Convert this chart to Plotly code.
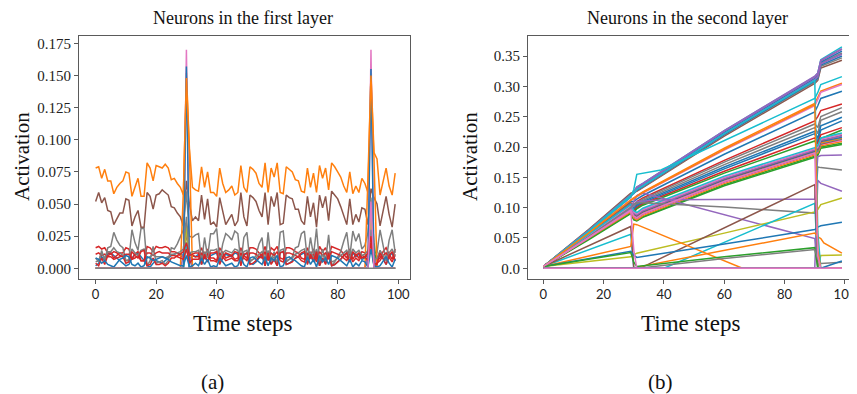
import plotly.graph_objects as go

# ---------------- colours (matplotlib tab10) ----------------
BLUE, ORANGE, GREEN, RED, PURPLE = "#1f77b4", "#ff7f0e", "#2ca02c", "#d62728", "#9467bd"
BROWN, PINK, GRAY, OLIVE, CYAN = "#8c564b", "#e377c2", "#7f7f7f", "#bcbd22", "#17becf"

# ---------------- panel (a): first layer ----------------
l1_orange = [0.078,0.079,0.070,0.077,0.068,0.068,0.058,0.063,0.066,0.068,0.075,0.074,0.056,0.064,0.070,0.056,0.056,0.082,0.078,0.068,
             0.080,0.079,0.078,0.081,0.078,0.069,0.070,0.066,0.063,0.057,0.152,0.093,0.063,0.061,0.060,0.079,0.063,0.075,0.059,0.059,
             0.056,0.078,0.066,0.059,0.061,0.064,0.057,0.059,0.080,0.063,0.059,0.079,0.077,0.074,0.066,0.063,0.082,0.059,0.078,0.071,
             0.082,0.059,0.058,0.079,0.077,0.075,0.069,0.068,0.060,0.059,0.078,0.063,0.074,0.059,0.080,0.070,0.078,0.061,0.082,0.079,
             0.075,0.071,0.064,0.059,0.075,0.058,0.064,0.059,0.070,0.066,0.059,0.152,0.090,0.085,0.057,0.068,0.078,0.064,0.057,0.074]
l1_brown = [0.052,0.059,0.051,0.055,0.045,0.044,0.034,0.038,0.043,0.043,0.054,0.053,0.033,0.040,0.045,0.032,0.032,0.059,0.056,0.046,
            0.057,0.058,0.061,0.059,0.057,0.048,0.047,0.043,0.040,0.033,0.068,0.050,0.037,0.040,0.037,0.057,0.038,0.054,0.034,0.036,
            0.032,0.055,0.045,0.034,0.038,0.042,0.033,0.037,0.059,0.040,0.033,0.057,0.055,0.052,0.045,0.040,0.059,0.034,0.056,0.048,
            0.059,0.034,0.035,0.057,0.055,0.054,0.046,0.046,0.037,0.034,0.056,0.040,0.051,0.032,0.057,0.047,0.056,0.037,0.060,0.057,
            0.054,0.048,0.041,0.034,0.054,0.034,0.042,0.036,0.047,0.046,0.034,0.062,0.055,0.050,0.033,0.046,0.056,0.042,0.032,0.050]
l1_gray_hi = [0.008,0.005,0.014,0.006,0.016,0.017,0.028,0.022,0.018,0.016,0.006,0.007,0.030,0.020,0.014,0.031,0.031,0.002,0.006,0.017,
              0.004,0.005,0.006,0.003,0.006,0.016,0.015,0.019,0.024,0.030,0.060,0.025,0.024,0.026,0.027,0.005,0.024,0.009,0.027,0.027,
              0.031,0.006,0.019,0.027,0.025,0.022,0.029,0.027,0.004,0.024,0.028,0.005,0.007,0.010,0.019,0.024,0.002,0.028,0.006,0.013,
              0.002,0.028,0.029,0.005,0.007,0.009,0.016,0.017,0.027,0.029,0.006,0.024,0.010,0.031,0.004,0.015,0.006,0.026,0.002,0.005,
              0.009,0.013,0.021,0.028,0.009,0.029,0.021,0.027,0.015,0.018,0.028,0.055,0.010,0.012,0.030,0.017,0.006,0.022,0.030,0.012]
l1_gray_mid = [0.005,0.006,0.012,0.008,0.013,0.013,0.016,0.013,0.012,0.010,0.006,0.006,0.015,0.012,0.010,0.014,0.015,0.008,0.009,0.011,
               0.009,0.009,0.009,0.008,0.009,0.011,0.011,0.012,0.013,0.015,0.040,0.012,0.013,0.013,0.014,0.006,0.013,0.008,0.014,0.014,
               0.015,0.006,0.012,0.014,0.013,0.012,0.015,0.014,0.005,0.013,0.014,0.006,0.007,0.008,0.011,0.013,0.005,0.014,0.006,0.009,
               0.005,0.014,0.015,0.006,0.007,0.008,0.011,0.012,0.014,0.015,0.006,0.013,0.008,0.015,0.005,0.011,0.006,0.013,0.005,0.006,
               0.008,0.010,0.012,0.014,0.008,0.015,0.012,0.014,0.010,0.011,0.014,0.030,0.006,0.008,0.014,0.010,0.006,0.012,0.015,0.009]
l1_red1 = [0.016,0.017,0.015,0.016,0.012,0.012,0.008,0.010,0.012,0.012,0.016,0.015,0.007,0.011,0.013,0.006,0.006,0.017,0.016,0.013,
           0.017,0.016,0.016,0.017,0.016,0.013,0.013,0.012,0.010,0.008,0.030,0.005,0.010,0.009,0.009,0.016,0.010,0.015,0.008,0.008,
           0.006,0.016,0.012,0.008,0.009,0.010,0.007,0.008,0.016,0.010,0.008,0.016,0.016,0.015,0.012,0.010,0.017,0.008,0.016,0.014,
           0.017,0.008,0.007,0.016,0.016,0.015,0.013,0.012,0.008,0.007,0.016,0.010,0.015,0.007,0.017,0.013,0.016,0.009,0.017,0.016,
           0.015,0.014,0.011,0.008,0.015,0.007,0.011,0.008,0.013,0.012,0.008,0.040,0.004,0.006,0.008,0.013,0.016,0.011,0.007,0.015]
l1_red2 = [0.011,0.012,0.010,0.011,0.009,0.009,0.007,0.008,0.009,0.010,0.011,0.011,0.007,0.008,0.010,0.006,0.006,0.012,0.012,0.010,
           0.012,0.013,0.012,0.012,0.012,0.010,0.010,0.009,0.008,0.007,0.015,0.004,0.007,0.007,0.007,0.012,0.008,0.011,0.006,0.006,
           0.005,0.012,0.009,0.006,0.007,0.008,0.006,0.006,0.012,0.008,0.006,0.012,0.012,0.011,0.009,0.008,0.013,0.006,0.012,0.010,
           0.013,0.006,0.005,0.012,0.012,0.011,0.010,0.009,0.006,0.005,0.012,0.008,0.011,0.005,0.013,0.010,0.012,0.007,0.013,0.012,
           0.011,0.010,0.008,0.006,0.011,0.005,0.008,0.006,0.010,0.009,0.006,0.020,0.003,0.004,0.006,0.010,0.012,0.008,0.005,0.011]
l1_red3 = [0.004,0.002,0.008,0.003,0.010,0.011,0.013,0.012,0.010,0.009,0.004,0.005,0.013,0.010,0.008,0.013,0.014,0.002,0.003,0.008,
           0.003,0.003,0.004,0.002,0.004,0.008,0.008,0.010,0.011,0.013,0.020,0.010,0.011,0.012,0.012,0.003,0.011,0.005,0.012,0.012,
           0.013,0.003,0.009,0.012,0.011,0.010,0.013,0.012,0.002,0.011,0.012,0.003,0.004,0.006,0.009,0.011,0.002,0.012,0.003,0.007,
           0.002,0.012,0.013,0.003,0.004,0.005,0.008,0.009,0.012,0.013,0.003,0.011,0.006,0.013,0.002,0.008,0.003,0.012,0.002,0.003,
           0.005,0.007,0.010,0.012,0.005,0.013,0.010,0.012,0.008,0.009,0.012,0.025,0.002,0.003,0.012,0.008,0.003,0.010,0.013,0.006]
l1_blue1 = [0.002,0.004,0.009,0.006,0.011,0.012,0.010,0.008,0.006,0.004,0.002,0.003,0.008,0.011,0.012,0.009,0.006,0.002,0.001,0.004,
            0.006,0.005,0.004,0.006,0.008,0.010,0.011,0.012,0.011,0.010,0.030,0.012,0.010,0.009,0.011,0.003,0.009,0.005,0.010,0.011,
            0.012,0.004,0.008,0.011,0.010,0.009,0.012,0.011,0.003,0.010,0.012,0.004,0.003,0.005,0.008,0.010,0.002,0.011,0.004,0.007,
            0.002,0.012,0.013,0.003,0.004,0.006,0.008,0.009,0.011,0.012,0.004,0.010,0.005,0.012,0.002,0.008,0.004,0.011,0.002,0.003,
            0.005,0.007,0.010,0.012,0.005,0.012,0.009,0.011,0.007,0.008,0.011,0.020,0.004,0.006,0.012,0.008,0.003,0.009,0.012,0.006]
l1_blue2 = [0.008,0.007,0.004,0.006,0.003,0.002,0.001,0.004,0.007,0.008,0.010,0.009,0.003,0.002,0.004,0.001,0.002,0.009,0.008,0.006,
            0.007,0.008,0.009,0.008,0.007,0.005,0.004,0.003,0.002,0.002,0.010,0.001,0.002,0.004,0.002,0.008,0.003,0.007,0.001,0.002,
            0.001,0.008,0.005,0.002,0.003,0.004,0.001,0.002,0.009,0.003,0.001,0.008,0.009,0.007,0.005,0.003,0.009,0.002,0.008,0.006,
            0.010,0.001,0.002,0.008,0.009,0.007,0.006,0.004,0.002,0.001,0.009,0.003,0.007,0.001,0.010,0.005,0.008,0.003,0.010,0.009,
            0.008,0.006,0.004,0.002,0.007,0.001,0.004,0.002,0.006,0.005,0.001,0.015,0.002,0.001,0.002,0.006,0.009,0.004,0.001,0.007]
# neurons that are silent except around the two input bursts (t -> activation)
l1_spike_pink = {30: 0.170, 91: 0.170}
l1_spike_blue = {30: 0.157, 91: 0.155}
l1_spike_orange = {29: 0.060, 30: 0.148, 31: 0.090, 90: 0.070, 91: 0.150, 92: 0.085}
l1_spike_green = {30: 0.030, 31: 0.010, 91: 0.050, 92: 0.020}
l1_spike_purple = {29: 0.010, 30: 0.030, 31: 0.010, 90: 0.010, 91: 0.028, 92: 0.010}
l1_spike_olive = {30: 0.035, 91: 0.040}
l1_spike_cyan = {30: 0.020, 91: 0.030}
l1_spike_pink2 = {91: 0.052}
N_STEPS = 100

# ---------------- panel (b): second layer ----------------
K = [0, 15, 29, 30, 31, 33, 60, 90, 91, 92, 99]  # time steps read for most neurons
l2_lines = [
    # top bundle
    (BROWN,  K, [0.003,0.064,0.124,0.125,0.127,0.133,0.218,0.305,0.310,0.330,0.343]),
    (GRAY,   K, [0.003,0.063,0.122,0.124,0.128,0.134,0.220,0.307,0.312,0.333,0.347]),
    (BLUE,   K, [0.003,0.062,0.121,0.123,0.129,0.135,0.221,0.309,0.314,0.335,0.350]),
    (GRAY,   K, [0.003,0.061,0.120,0.124,0.131,0.137,0.223,0.312,0.317,0.338,0.355]),
    (BLUE,   K, [0.003,0.061,0.119,0.125,0.132,0.138,0.224,0.313,0.318,0.340,0.358]),
    (CYAN,   K, [0.003,0.060,0.118,0.126,0.134,0.140,0.227,0.316,0.322,0.344,0.365]),
    (PURPLE, K, [0.003,0.062,0.121,0.124,0.130,0.136,0.222,0.311,0.316,0.337,0.353]),
    (PURPLE, K, [0.003,0.060,0.118,0.126,0.133,0.139,0.226,0.315,0.320,0.342,0.361]),
    (PURPLE, K, [0.003,0.060,0.117,0.127,0.134,0.140,0.227,0.317,0.322,0.343,0.362]),
    # middle group
    (CYAN,   [0,15,29,30,31,33,39,90,91,92,99], [0.003,0.060,0.118,0.130,0.155,0.157,0.162,0.280,0.290,0.303,0.316]),
    (ORANGE, K, [0.003,0.058,0.113,0.116,0.120,0.126,0.198,0.272,0.282,0.292,0.305]),
    (PINK,   K, [0.003,0.057,0.112,0.114,0.118,0.124,0.195,0.268,0.278,0.290,0.303]),
    (BLUE,   K, [0.003,0.056,0.110,0.110,0.114,0.120,0.188,0.258,0.268,0.280,0.292]),
    (RED,    K, [0.003,0.055,0.108,0.105,0.110,0.116,0.178,0.243,0.250,0.260,0.271]),
    (GRAY,   K, [0.003,0.055,0.107,0.103,0.108,0.114,0.175,0.238,0.232,0.250,0.265]),
    (GRAY,   K, [0.003,0.054,0.106,0.100,0.106,0.112,0.171,0.232,0.222,0.244,0.258]),
    (BLUE,   K, [0.003,0.054,0.105,0.098,0.104,0.110,0.167,0.226,0.214,0.235,0.249]),
    (BLUE,   K, [0.003,0.053,0.104,0.096,0.102,0.108,0.164,0.222,0.208,0.228,0.243]),
    (RED,    K, [0.003,0.053,0.103,0.094,0.100,0.106,0.160,0.215,0.205,0.220,0.232]),
    (GREEN,  K, [0.003,0.052,0.102,0.092,0.098,0.104,0.157,0.210,0.200,0.214,0.228]),
    # main lower bundle
    (GREEN,  K, [0.003,0.047,0.090,0.080,0.078,0.084,0.136,0.183,0.186,0.198,0.204]),
    (GREEN,  K, [0.003,0.048,0.091,0.081,0.079,0.085,0.138,0.185,0.188,0.200,0.206]),
    (ORANGE, K, [0.003,0.049,0.093,0.083,0.080,0.087,0.140,0.187,0.190,0.202,0.209]),
    (PINK,   K, [0.003,0.050,0.095,0.085,0.082,0.089,0.142,0.189,0.192,0.204,0.211]),
    (RED,    K, [0.003,0.050,0.096,0.086,0.083,0.090,0.143,0.190,0.193,0.205,0.213]),
    (CYAN,   K, [0.003,0.051,0.097,0.087,0.084,0.091,0.144,0.191,0.194,0.206,0.214]),
    (ORANGE, K, [0.003,0.052,0.098,0.088,0.085,0.092,0.145,0.192,0.195,0.207,0.215]),
    (BLUE,   K, [0.003,0.052,0.099,0.089,0.086,0.093,0.146,0.193,0.196,0.209,0.216]),
    (BROWN,  K, [0.003,0.053,0.100,0.090,0.087,0.094,0.147,0.194,0.197,0.210,0.219]),
    (PURPLE, K, [0.003,0.053,0.101,0.091,0.088,0.095,0.148,0.195,0.198,0.211,0.218]),
    (PINK,   K, [0.003,0.054,0.103,0.093,0.090,0.097,0.150,0.197,0.200,0.213,0.221]),
    (CYAN,   K, [0.003,0.055,0.105,0.095,0.092,0.099,0.152,0.199,0.202,0.215,0.223]),
    # individual neurons
    (PURPLE, [0,15,29,30,31,33,90,91,99], [0.003,0.052,0.100,0.110,0.120,0.124,0.049,0.0,0.0]),
    (PURPLE, [0,15,29,30,31,40,90,91,92,99], [0.003,0.050,0.098,0.105,0.110,0.113,0.114,0.184,0.186,0.187]),
    (GRAY,   [0,15,29,30,31,33,60,90,91,92,99], [0.003,0.052,0.100,0.106,0.108,0.108,0.101,0.091,0.167,0.166,0.162]),
    (PURPLE, [0,90,91,92,99], [0.0,0.0,0.145,0.140,0.127]),
    (OLIVE,  [0,29,30,31,60,90,91,92,99], [0.003,0.019,0.022,0.025,0.058,0.093,0.097,0.105,0.116]),
    (OLIVE,  [0,91,92,99], [0.0,0.0,0.021,0.022]),
    (CYAN,   [0,15,29,30,40,90,91,99], [0.003,0.030,0.056,0.0,0.0,0.107,0.0,0.0]),
    (BROWN,  [0,15,29,30,32,90,91,99], [0.003,0.037,0.069,0.0,0.0,0.138,0.0,0.0]),
    (ORANGE, [0,15,29,30,31,66,99], [0.003,0.020,0.036,0.073,0.072,0.0,0.0]),
    (ORANGE, [0,30,31,60,90,91,92,93,99], [0.0,0.0,0.002,0.029,0.058,0.052,0.049,0.042,0.025]),
    (BLUE,   [0,15,29,30,31,60,90,91,92,99], [0.003,0.016,0.028,0.022,0.018,0.040,0.064,0.068,0.070,0.076]),
    (GREEN,  [0,29,30,31,60,90,91,99], [0.003,0.026,0.010,0.003,0.019,0.034,0.0,0.0]),
    (GRAY,   [0,31,33,60,90,91,92,99], [0.0,0.0,0.001,0.016,0.031,0.015,0.008,0.010]),
    (PINK,   [0,15,29,30,31,99], [0.003,0.050,0.095,0.030,0.0,0.0]),
    (CYAN,   K, [0.003,0.061,0.120,0.124,0.130,0.136,0.222,0.310,0.060,0.0,0.0]),
    (ORANGE, K, [0.003,0.058,0.112,0.115,0.119,0.125,0.196,0.270,0.030,0.0,0.0]),
    (PINK,   K, [0.003,0.050,0.096,0.086,0.083,0.090,0.143,0.190,0.020,0.0,0.0]),
    (BLUE,   [0,92,99], [0.0,0.0,0.012]),
    (PINK,   [0,99], [0.0,0.0]),
]

x_ticks = [0, 20, 40, 60, 80, 100]
y1_ticks = [0.0, 0.025, 0.05, 0.075, 0.1, 0.125, 0.15, 0.175]
y1_text = ["0.000", "0.025", "0.050", "0.075", "0.100", "0.125", "0.150", "0.175"]
y2_ticks = [0.0, 0.05, 0.1, 0.15, 0.2, 0.25, 0.3, 0.35]
y2_text = ["0.0", "0.05", "0.10", "0.15", "0.20", "0.25", "0.30", "0.35"]

# ---------------- figure ----------------
# the page body keeps the browser's default 8px margin, so the figure is
# sized to the remaining window and page pixels are shifted by that offset
PAGE_W, PAGE_H, OFF = 857, 394, 8
W, H = PAGE_W - OFF, PAGE_H - OFF
fig = go.Figure()


def fx(px):
    return (px - OFF) / W


def fy(py):
    return 1 - (py - OFF) / H


def add(x, y, color, xa, ya, width=1.5):
    fig.add_trace(go.Scatter(x=x, y=y, mode="lines", line=dict(color=color, width=width),
                             xaxis=xa, yaxis=ya, hoverinfo="skip", showlegend=False))


def dense(d):
    return [d.get(t, 0.0) for t in range(N_STEPS)]


def steps_of(arr):
    return list(range(len(arr)))


panel_a = [
    (l1_blue1, BLUE), (l1_orange, ORANGE), (dense(l1_spike_green), GREEN), (l1_red1, RED),
    (dense(l1_spike_purple), PURPLE), (l1_brown, BROWN), (dense(l1_spike_pink), PINK), (l1_gray_hi, GRAY),
    (dense(l1_spike_olive), OLIVE), (dense(l1_spike_cyan), CYAN), (dense(l1_spike_blue), BLUE),
    (dense(l1_spike_orange), ORANGE), (l1_red2, RED), (l1_gray_mid, GRAY), (l1_red3, RED),
    (l1_blue2, BLUE), (dense(l1_spike_pink2), PINK), ([0.0] * N_STEPS, GRAY),
]
for arr, col in panel_a:
    add(steps_of(arr), arr, col, "x", "y")

for col, ts, vs in l2_lines:
    add(ts, vs, col, "x2", "y2")

SPINE = "#5a5a5a"
ydom = [fy(278.5), fy(36)]
xcommon = dict(showline=True, mirror=True, linecolor=SPINE, linewidth=1, ticks="outside", ticklen=4,
               tickcolor=SPINE, tickwidth=1, showgrid=False, zeroline=False, tickvals=x_ticks,
               tickfont=dict(family="Lato, Open Sans, sans-serif", size=13, color="#222"))
ycommon = dict(showline=True, mirror=True, linecolor=SPINE, linewidth=1, ticks="outside", ticklen=4,
               tickcolor=SPINE, tickwidth=1, showgrid=False, zeroline=False,
               tickfont=dict(family="Liberation Serif, serif", size=15, color="#222"))

fig.update_layout(
    width=W, height=H, margin=dict(l=0, r=0, t=0, b=0),
    paper_bgcolor="white", plot_bgcolor="white", showlegend=False,
    xaxis=dict(domain=[fx(79), fx(410)], range=[-5.5, 103.9], anchor="y", **xcommon),
    yaxis=dict(domain=ydom, range=[-0.0079, 0.1807], anchor="x", tickvals=y1_ticks, ticktext=y1_text, **ycommon),
    xaxis2=dict(domain=[fx(528), 1.0], range=[-5.07, 104.0], anchor="y2", **xcommon),
    yaxis2=dict(domain=ydom, range=[-0.0168, 0.383], anchor="x2", tickvals=y2_ticks, ticktext=y2_text, **ycommon),
)

SERIF = "Liberation Serif, serif"


def label(text, px, py, size, angle=0):
    fig.add_annotation(text=text, x=fx(px), y=fy(py), xref="paper", yref="paper",
                       xanchor="center", yanchor="middle", showarrow=False, textangle=angle,
                       font=dict(family=SERIF, size=size, color="#111"))


label("Neurons in the first layer", 243, 18, 18)
label("Neurons in the second layer", 687, 18, 18)
label("Activation", 22, 157, 21, -90)
label("Activation", 470, 157, 21, -90)
label("Time steps", 243, 323, 23)
label("Time steps", 691, 323, 23)
label("(a)", 212, 382, 21)
label("(b)", 660, 382, 21)

fig.write_html("out.html")
